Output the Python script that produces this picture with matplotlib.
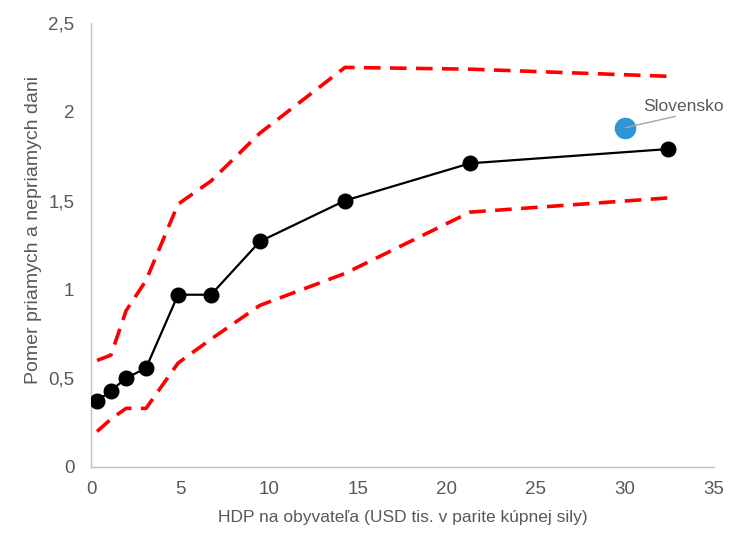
import matplotlib
matplotlib.use("Agg")
import matplotlib.pyplot as plt
from matplotlib.ticker import FuncFormatter

plt.rcParams['font.family'] = ['Liberation Sans Narrow', 'Liberation Sans', 'DejaVu Sans']

gdp = [0.34, 1.12, 1.97, 3.09, 4.89, 6.74, 9.49, 14.27, 21.3, 32.4]
ratio = [0.37, 0.43, 0.50, 0.557, 0.97, 0.97, 1.27, 1.50, 1.71, 1.79]
upper = [0.60, 0.63, 0.88, 1.05, 1.48, 1.61, 1.88, 2.25, 2.24, 2.20]
lower = [0.20, 0.27, 0.33, 0.33, 0.585, 0.72, 0.91, 1.09, 1.435, 1.515]
sk_x = [30.0]
sk_y = [1.91]
sk_label = "Slovensko"
xticks = [0, 5, 10, 15, 20, 25, 30, 35]
yticks = [0, 0.5, 1, 1.5, 2, 2.5]

fig = plt.figure(figsize=(7.31, 5.41), dpi=100)
ax = fig.add_axes([0.1245, 0.1368, 0.8522, 0.8207])

ax.plot(gdp, upper, color='#ff0000', lw=2.6, dashes=(4.6, 2.6), solid_capstyle='butt')
ax.plot(gdp, lower, color='#ff0000', lw=2.6, dashes=(4.6, 2.6))
ax.plot(gdp, ratio, color='black', lw=1.6, marker='o', markersize=10.5, zorder=3)
ax.plot(sk_x, sk_y, marker='o', color='#2e96d8', markersize=14.5, ls='none', zorder=4)
ax.annotate(sk_label, xy=(sk_x[0], sk_y[0]), xytext=(33.3, 1.99),
            fontsize=12.5, color='#595959', ha='center', va='bottom',
            arrowprops=dict(arrowstyle='-', color='#a6a6a6', lw=1.0,
                            shrinkA=0, shrinkB=0,
                            relpos=(0.55, 0.0)),
            zorder=5)

ax.set_xlim(0, 35)
ax.set_ylim(0, 2.5)
ax.set_xticks(xticks)
ax.set_yticks(yticks)
fmt = FuncFormatter(lambda v, p: ('%g' % v).replace('.', ','))
ax.xaxis.set_major_formatter(fmt)
ax.yaxis.set_major_formatter(fmt)
ax.tick_params(length=0, labelsize=13.5, colors='#595959', pad=10)
ax.tick_params(axis='y', pad=12)
for s in ['top', 'right']:
    ax.spines[s].set_visible(False)
for s in ['left', 'bottom']:
    ax.spines[s].set_color('#bfbfbf')
    ax.spines[s].set_linewidth(1.0)

ax.set_xlabel('HDP na obyvateľa (USD tis. v parite kúpnej sily)', fontsize=12.5, color='#595959', labelpad=9)
ax.set_ylabel('Pomer priamych a nepriamych dani', fontsize=14, color='#595959')
ax.yaxis.set_label_coords(-0.078, 0.535)

fig.savefig('out.png', dpi=100)
